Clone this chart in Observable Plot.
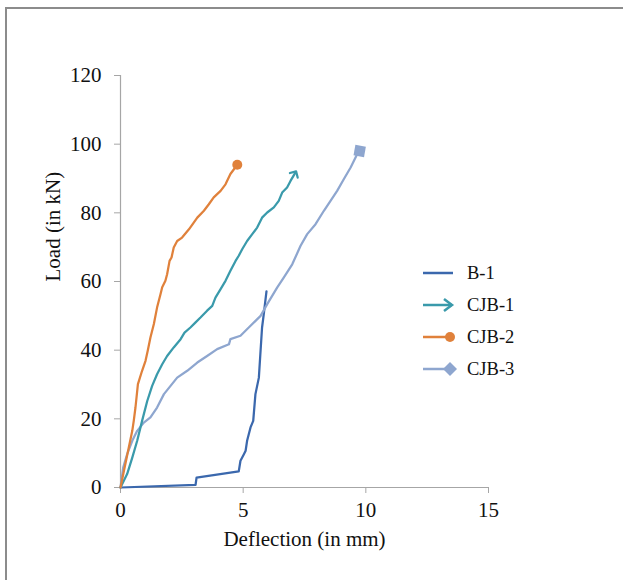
<!DOCTYPE html>
<html>
<head>
<meta charset="utf-8">
<script src="https://cdn.jsdelivr.net/npm/d3@7"></script>
<script src="https://cdn.jsdelivr.net/npm/@observablehq/plot@0.6"></script>
<style>
  html, body { margin: 0; padding: 0; background: #fff; overflow: hidden; }
  #wrap { position: relative; width: 623px; height: 580px; }
  #frame { position: absolute; left: 5px; top: 7px; width: 700px; height: 700px;
           border-left: 2px solid #8c8c8c; border-top: 2px solid #8c8c8c; pointer-events: none; }
  #legend { position: absolute; left: 421px; top: 257px; font-family: "Liberation Serif", serif; font-size: 18.5px; color: #111; }
  .item { display: flex; align-items: center; height: 32px; }
  .item svg { margin-right: 10px; }
</style>
</head>
<body>
<div id="wrap">
  <div id="chart"></div>
  <div id="frame"></div>
  <div id="legend"></div>
</div>
<script>
// ---- data (deflection in mm, load in kN) ----
const seriesNames = ["B-1", "CJB-1", "CJB-2", "CJB-3"];
const colors = ["#3b68ad", "#3a9aab", "#e0813b", "#8ea6cf"];

const b1X = [0, 3.06, 3.1, 4.82, 4.89, 5.03, 5.1, 5.16, 5.3, 5.41, 5.5, 5.64, 5.7, 5.77, 5.84, 5.95];
const b1Y = [0, 0.8, 2.9, 4.7, 7.8, 9.7, 10.7, 13.6, 17.5, 19.4, 27.2, 32, 38.8, 46.6, 50.5, 57.1];

const cjb1X = [0, 0.27, 0.48, 0.68, 0.88, 1.09, 1.29, 1.49, 1.7, 1.9, 2.17, 2.45, 2.61, 2.85, 3.06, 3.26, 3.53, 3.74, 3.87, 4.08, 4.28, 4.48, 4.69, 4.82, 4.96, 5.16, 5.37, 5.57, 5.77, 5.98, 6.25, 6.45, 6.59, 6.79, 6.93, 7.11];
const cjb1Y = [0, 3.9, 8.7, 13.6, 19.4, 25.2, 29.6, 33, 35.9, 38.3, 40.8, 43.2, 45.1, 46.6, 48.1, 49.5, 51.5, 52.9, 55.3, 57.8, 60.2, 63.1, 66, 67.5, 69.4, 71.8, 73.8, 75.7, 78.6, 80.1, 81.6, 83.5, 85.9, 87.4, 89.3, 91.5];

const cjb2X = [0, 0.14, 0.34, 0.48, 0.54, 0.61, 0.71, 0.88, 1.02, 1.11, 1.22, 1.36, 1.49, 1.63, 1.7, 1.83, 1.9, 2.0, 2.08, 2.17, 2.31, 2.51, 2.79, 3.13, 3.4, 3.6, 3.8, 4.08, 4.28, 4.48, 4.76];
const cjb2Y = [0, 4.9, 11.7, 16.5, 19.4, 23.3, 30.1, 34, 36.9, 39.8, 43.7, 47.6, 52.4, 56.3, 58.3, 60.2, 62.1, 66, 67, 69.9, 71.8, 72.8, 75.2, 78.6, 80.6, 82.5, 84.5, 86.4, 88.3, 91.3, 94.0];

const cjb3X = [0, 0.11, 0.27, 0.48, 0.68, 0.95, 1.22, 1.49, 1.77, 2.04, 2.31, 2.72, 3.13, 3.53, 3.94, 4.42, 4.48, 4.89, 5.3, 5.71, 5.98, 6.39, 6.66, 7.0, 7.34, 7.61, 7.95, 8.29, 8.56, 8.83, 9.1, 9.38, 9.65, 9.75];
const cjb3Y = [0, 5.8, 9.7, 13.6, 16.5, 18.9, 20.4, 23.3, 27.2, 29.6, 32, 34, 36.4, 38.3, 40.3, 41.7, 43.2, 44.2, 47.1, 50, 53.4, 58.3, 61.2, 65, 70.4, 73.8, 76.7, 80.6, 83.5, 86.4, 89.8, 93.2, 97.1, 98.0];

const xTicks = [0, 5, 10, 15];
const yTicks = [0, 20, 40, 60, 80, 100, 120];
const xLabel = "Deflection (in mm)";
const yLabel = "Load (in kN)";

const toRows = (xs, ys, s) => xs.map((x, i) => ({x, y: ys[i], s}));
const b1 = toRows(b1X, b1Y, "B-1");
const cjb1 = toRows(cjb1X, cjb1Y, "CJB-1");
const cjb2 = toRows(cjb2X, cjb2Y, "CJB-2");
const cjb3 = toRows(cjb3X, cjb3Y, "CJB-3");

const font = "Liberation Serif, Times New Roman, serif";
const axisGray = "#a6a6a6";

const chart = Plot.plot({
  width: 623,
  height: 580,
  marginLeft: 120,
  marginRight: 135,
  marginTop: 75,
  marginBottom: 93,
  style: {fontFamily: font, fontSize: "21px", color: "#111", background: "transparent"},
  x: {domain: [0, 15]},
  y: {domain: [0, 120]},
  color: {domain: seriesNames, range: colors},
  marks: [
    Plot.ruleX([0], {y1: 0, y2: 120, stroke: axisGray, strokeWidth: 1.2}),
    Plot.ruleY([0], {x1: 0, x2: 15, stroke: axisGray, strokeWidth: 1.2}),
    Plot.axisX({ticks: xTicks, tickSize: 6, tickPadding: 9, stroke: axisGray, fill: "#111", label: null, tickFormat: d => String(d)}),
    Plot.axisY({ticks: yTicks, tickSize: 6, tickPadding: 13, stroke: axisGray, fill: "#111", label: null, tickFormat: d => String(d)}),
    Plot.text([xLabel], {frameAnchor: "bottom", dy: 52, lineAnchor: "middle", fill: "#111", fontSize: 21}),
    Plot.text([yLabel], {frameAnchor: "left", dx: -67, rotate: -90, lineAnchor: "middle", fill: "#111", fontSize: 21}),
    Plot.line(b1, {x: "x", y: "y", stroke: colors[0], strokeWidth: 2.25}),
    Plot.line(cjb3, {x: "x", y: "y", stroke: colors[3], strokeWidth: 2.25}),
    Plot.line(cjb1, {x: "x", y: "y", stroke: colors[1], strokeWidth: 2.25, markerEnd: "arrow"}),
    Plot.line(cjb2, {x: "x", y: "y", stroke: colors[2], strokeWidth: 2.25}),
    Plot.dot(cjb2, Plot.selectLast({x: "x", y: "y", r: 5, fill: colors[2], stroke: "none"})),
    Plot.dot(cjb3, Plot.selectLast({x: "x", y: "y", r: 6, symbol: "square", rotate: 10, fill: colors[3], stroke: "none"}))
  ]
});
document.getElementById("chart").append(chart);

// ---- legend ----
const legend = document.getElementById("legend");
const icons = [
  c => `<line x1="2" y1="8" x2="32" y2="8" stroke="${c}" stroke-width="2.5"/>`,
  c => `<line x1="2" y1="8" x2="31" y2="8" stroke="${c}" stroke-width="2.5"/><path d="M23,2 L31,8 L23,14" fill="none" stroke="${c}" stroke-width="2.5"/>`,
  c => `<line x1="2" y1="8" x2="28" y2="8" stroke="${c}" stroke-width="2.5"/><circle cx="29" cy="8" r="5" fill="${c}"/>`,
  c => `<line x1="2" y1="8" x2="28" y2="8" stroke="${c}" stroke-width="2.5"/><path d="M29,1 L36,8 L29,15 L22,8 Z" fill="${c}"/>`
];
seriesNames.forEach((name, i) => {
  const div = document.createElement("div");
  div.className = "item";
  div.innerHTML = `<svg width="36" height="16">${icons[i](colors[i])}</svg><span>${name}</span>`;
  legend.append(div);
});
</script>
</body>
</html>
